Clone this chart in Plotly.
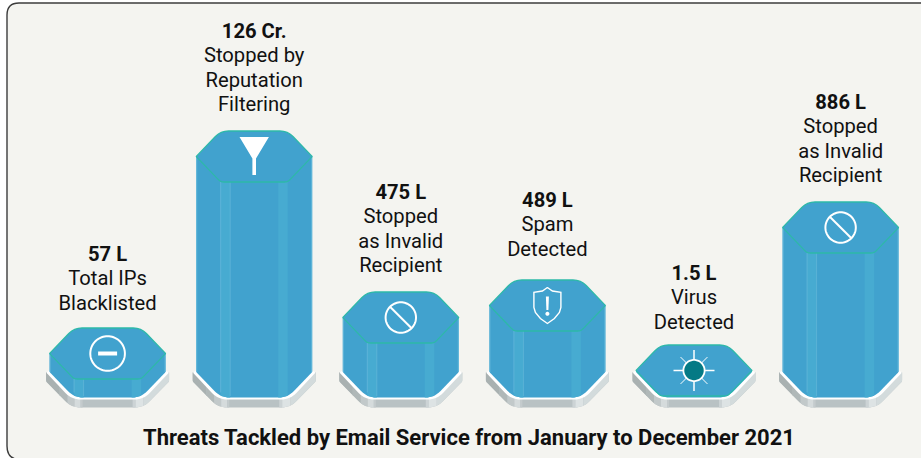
import math
import plotly.graph_objects as go

# ---- data ----
categories = ["Total IPs Blacklisted", "Stopped by Reputation Filtering",
              "Stopped as Invalid Recipient", "Spam Detected",
              "Virus Detected", "Stopped as Invalid Recipient"]
value_labels = ["57 L", "126 Cr.", "475 L", "489 L", "1.5 L", "886 L"]
label_lines = [["Total IPs", "Blacklisted"],
               ["Stopped by", "Reputation", "Filtering"],
               ["Stopped", "as Invalid", "Recipient"],
               ["Spam", "Detected"],
               ["Virus", "Detected"],
               ["Stopped", "as Invalid", "Recipient"]]
column_heights = [18.5, 215.5, 54.5, 66.5, 1.5, 144.5]
title_text = "Threats Tackled by Email Service from January to December 2021"
icons = ["minus", "funnel", "noentry", "shield", "sun", "noentry"]

# ---- layout constants (pixels) ----
W, H = 921, 458
X0, STEP = 107.6, 146.6          # centre of first column, column pitch
BASE_PX = 397.5                  # pixel row of height 0
HALF, CORNER, DEPTH = 58, 33.5, 25.5
LABEL_FIRST_PX = [256, 33, 194, 202, 275, 104]
LINE_GAP = 24.4

BG = "#F4F4F0"
BLUE = "#41A2CE"
STRIP = "#47ABD1"
EDGE = "#64B8DA"
TEAL = "#2DB9A8"
FONT = "Roboto"

fig = go.Figure()


def rounded(points, radii, n=8):
    out = []
    m = len(points)
    for k in range(m):
        p, a, b = points[k], points[k - 1], points[(k + 1) % m]
        r = radii[k]
        if r <= 0:
            out.append(p)
            continue
        la = math.hypot(a[0] - p[0], a[1] - p[1])
        lb = math.hypot(b[0] - p[0], b[1] - p[1])
        s = (p[0] + (a[0] - p[0]) * r / la, p[1] + (a[1] - p[1]) * r / la)
        e = (p[0] + (b[0] - p[0]) * r / lb, p[1] + (b[1] - p[1]) * r / lb)
        for t in range(n + 1):
            t /= n
            out.append(((1 - t) ** 2 * s[0] + 2 * t * (1 - t) * p[0] + t * t * e[0],
                        (1 - t) ** 2 * s[1] + 2 * t * (1 - t) * p[1] + t * t * e[1]))
    return out


def clip_side(poly, limit, keep_below):
    res = []
    for k in range(len(poly)):
        a, b = poly[k - 1], poly[k]
        ina = a[0] <= limit if keep_below else a[0] >= limit
        inb = b[0] <= limit if keep_below else b[0] >= limit
        if ina != inb:
            t = (limit - a[0]) / (b[0] - a[0])
            res.append((limit, a[1] + t * (b[1] - a[1])))
        if inb:
            res.append(b)
    return res


def band(poly, xmin, xmax):
    return clip_side(clip_side(poly, xmin, False), xmax, True)


def xy(i, pts, y0=0.0):
    """pts: (pixel offset x from column centre, height above y0)."""
    return [i + p[0] / STEP for p in pts], [y0 + p[1] for p in pts]


def area(i, pts, color, y0=0.0, line=None, lw=1):
    xs, ys = xy(i, list(pts) + [pts[0]], y0)
    fig.add_trace(go.Scatter(x=xs, y=ys, mode="lines", fill="toself", fillcolor=color,
                             line=dict(color=line or color, width=lw if line else 0, simplify=False),
                             hoverinfo="skip", showlegend=False))


def stroke(i, pts, color, width, y0=0.0):
    xs, ys = xy(i, pts, y0)
    fig.add_trace(go.Scatter(x=xs, y=ys, mode="lines", line=dict(color=color, width=width, simplify=False),
                             hoverinfo="skip", showlegend=False))


def circle(r, n=72):
    return [(r * math.cos(2 * math.pi * k / n), r * math.sin(2 * math.pi * k / n)) for k in range(n + 1)]


def draw_base(i):
    top = [(-61.5, 25), (-36, -2), (36, -2), (61.5, 25), (58, 27), (-58, 27)]
    outer = rounded([(-61.5, 25), (-61.5, 16), (-36, -10), (36, -10), (61.5, 16), (61.5, 25)],
                    [0, 1.5, 9, 9, 1.5, 0])
    area(i, outer, "#B9C2C4")
    for a, b, c in [(-62, -48, "#A9B1B1"), (-48, -40, "#B0B8B8"), (-40, -33, "#C2C9CA"),
                    (-33, -27, "#D5DBDC"), (-27, -25, "#C4CBCD"),
                    (25, 28, "#CCD3D5"), (28, 36, "#DDE3E4"), (36, 62, "#D3DBDC")]:
        area(i, band(outer, a, b), c)
    area(i, rounded(top, [1.5, 9, 9, 1.5, 0, 0]), "#FFFFFF")


def draw_column(i, h):
    mid = h + DEPTH
    body = rounded([(-HALF, mid), (-HALF, DEPTH), (-CORNER, 0), (CORNER, 0), (HALF, DEPTH), (HALF, mid)],
                   [0, 1, 9, 9, 1, 0])
    area(i, body, BLUE)
    if h > 6:
        area(i, band(body, -CORNER, -24), STRIP)
        area(i, band(body, 24, CORNER), STRIP)
        for x, col, w in [(-CORNER, EDGE, 0.8), (-24, EDGE, 0.7),
                          (-HALF + 0.5, EDGE, 1), (HALF - 0.5, EDGE, 1)]:
            low = 1.5 if abs(x) < 30 else (5 if abs(x) < 40 else DEPTH)
            stroke(i, [(x, low), (x, h if abs(x) < 40 else mid)], col, w)
    top = rounded([(-HALF, mid), (-CORNER, h + 2 * DEPTH), (CORNER, h + 2 * DEPTH),
                   (HALF, mid), (CORNER, h), (-CORNER, h)],
                  [0.5, 8, 8, 0.5, 3, 3])
    area(i, top, BLUE, line=TEAL, lw=1.3)


def draw_icon(i, kind, mid):
    c = lambda pts: [(x, -y) for x, y in pts]   # icon offsets written with y down
    if kind == "minus":
        stroke(i, circle(17.3), "white", 2, mid)
        area(i, c([(-9.5, -2), (9.5, -2), (9.5, 2), (-9.5, 2)]), "white", mid)
    elif kind == "noentry":
        stroke(i, circle(15.2), "white", 2, mid)
        stroke(i, c([(-10.8, -10.8), (10.8, 10.8)]), "white", 2, mid)
    elif kind == "funnel":
        area(i, c([(-14.7, -19.5), (14.7, -19.5), (1.8, 2), (1.8, 18.5), (-1.8, 18.5), (-1.8, 2)]), "white", mid)
    elif kind == "shield":
        side = [(0, -18), (-5, -14.5), (-13.5, -13.2), (-13.5, 2), (-12, 7), (-7, 13), (0, 18)]
        mirrored = [(-x, y) for x, y in reversed(side[:-1])]
        stroke(i, c(side + mirrored), "white", 1.4, mid)
        area(i, c([(-1.5, -9), (1.5, -9), (1, 4.5), (-1, 4.5)]), "white", mid)
        area(i, c(circle(2)), "white", mid + -8.3)
    elif kind == "sun":
        for k in range(8):
            a = k * math.pi / 4
            r0, r1, w = (10, 20.5, 1.5) if k % 2 == 0 else (10, 19, 1)
            stroke(i, [(r0 * math.cos(a), r0 * math.sin(a)), (r1 * math.cos(a), r1 * math.sin(a))], "white", w, mid)
        area(i, circle(11.5), "white", mid)
        area(i, circle(9.7), "#057A85", mid)


for i, h in enumerate(column_heights):
    draw_base(i)
    draw_column(i, h)
    draw_icon(i, icons[i], h + DEPTH)

    # text of each column, line by line
    lines = ["<b>%s</b>" % value_labels[i]] + label_lines[i]
    fig.add_trace(go.Scatter(
        x=[i] * len(lines),
        y=[BASE_PX - (LABEL_FIRST_PX[i] + k * LINE_GAP) for k in range(len(lines))],
        text=lines, mode="text", textposition="middle center",
        textfont=dict(family=FONT, size=20.2, color="#111111"),
        hoverinfo="skip", showlegend=False, name=categories[i]))

fig.add_annotation(x=(468.5 - X0) / STEP, y=BASE_PX - 437, text="<b>%s</b>" % title_text,
                   showarrow=False, xanchor="center", yanchor="middle",
                   font=dict(family="Roboto", size=22, color="#111111"))


# rounded card behind the chart (runs off the right and bottom sides)
def fx(px): return px / W
def fy(py): return 1 - py / H


frame = "M %f %f L %f %f Q %f %f %f %f L %f %f Q %f %f %f %f L %f %f Z" % (
    fx(940), fy(3), fx(19), fy(3), fx(7), fy(3), fx(7), fy(15),
    fx(7), fy(446), fx(7), fy(459.5), fx(20), fy(459.5), fx(940), fy(459.5))
fig.add_shape(type="path", xref="paper", yref="paper", path=frame, layer="below",
              fillcolor=BG, line=dict(color="#3C3C3C", width=1.4))

fig.update_layout(
    width=W, height=H, margin=dict(l=0, r=0, t=0, b=0),
    paper_bgcolor="white", plot_bgcolor="rgba(0,0,0,0)", showlegend=False,
    xaxis=dict(range=[-X0 / STEP, (W - X0) / STEP], visible=False, fixedrange=True),
    yaxis=dict(range=[BASE_PX - H, BASE_PX], visible=False, fixedrange=True),
)
fig.write_html("out.html", config={"displayModeBar": False},
               post_script="document.body.style.margin='0';")
